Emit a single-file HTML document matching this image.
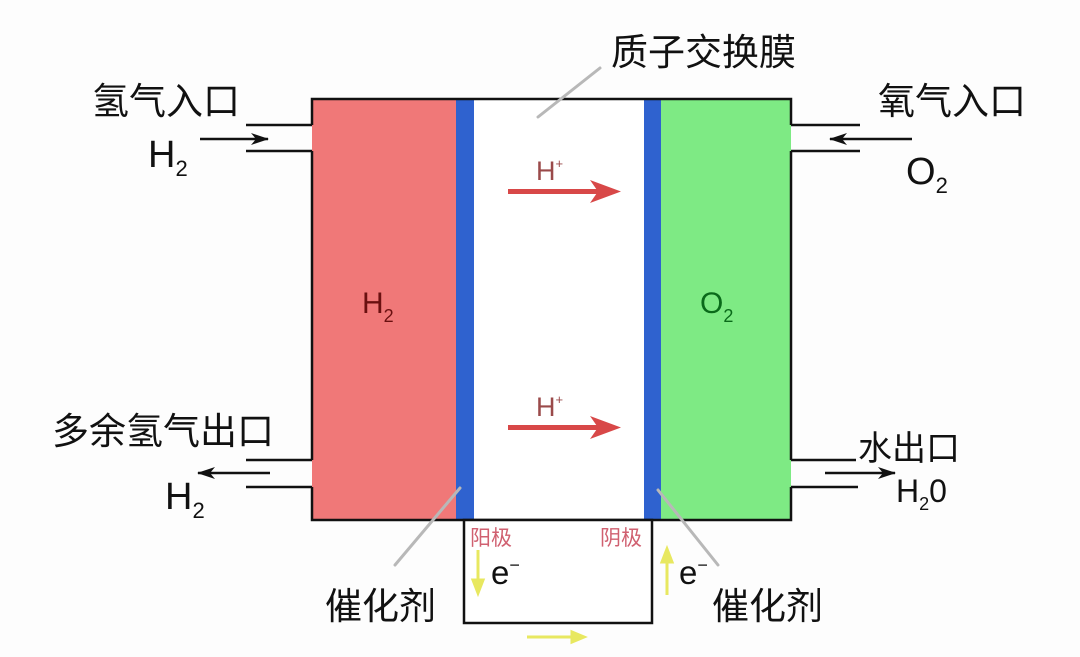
<!DOCTYPE html>
<html><head><meta charset="utf-8"><style>
html,body{margin:0;padding:0;background:#fff;}
svg{display:block;}
text{font-family:"Liberation Sans","Noto Sans CJK SC",sans-serif;}
</style></head><body>
<svg width="1080" height="657" viewBox="0 0 1080 657" xmlns="http://www.w3.org/2000/svg">
<defs>
<marker id="ak" markerWidth="18" markerHeight="12" refX="17" refY="6" orient="auto" markerUnits="userSpaceOnUse"><path d="M0,0 L18,6 L0,12 L5,6 Z" fill="#111"/></marker>
</defs>
<rect x="0" y="0" width="1080" height="657" fill="#fdfdfd"/>
<rect x="312" y="99" width="144" height="421" fill="#f07878"/>
<rect x="456" y="99" width="18" height="421" fill="#2f62cf"/>
<rect x="474" y="99" width="170" height="421" fill="#ffffff"/>
<rect x="644" y="99" width="17" height="421" fill="#2f62cf"/>
<rect x="661" y="99" width="130" height="421" fill="#7eea84"/>
<g stroke="#111" stroke-width="2.5" fill="none">
<path d="M312,125 V99 H791 V125"/>
<path d="M312,151 V460"/>
<path d="M312,487 V520 H791 V487"/>
<path d="M791,151 V460"/>
<path d="M246,125 H312"/><path d="M246,151 H312"/>
<path d="M246,460 H312"/><path d="M246,487 H312"/>
<path d="M791,125 H860"/><path d="M791,151 H860"/>
<path d="M791,460 H856"/><path d="M791,487 H858"/>
</g>
<g stroke="#111" stroke-width="2.5">
<line x1="200" y1="139" x2="268" y2="139" marker-end="url(#ak)"/>
<line x1="912" y1="139" x2="830" y2="139" marker-end="url(#ak)"/>
<line x1="270" y1="473" x2="198" y2="473" marker-end="url(#ak)"/>
<line x1="825" y1="473" x2="895" y2="473" marker-end="url(#ak)"/>
</g>
<g fill="#d84848">
<rect x="508" y="189" width="92" height="5"/><path d="M590,180 L621,191.5 L590,203 L598,191.5Z"/>
<rect x="508" y="425" width="92" height="5"/><path d="M590,416 L621,427.5 L590,439 L598,427.5Z"/>
</g>
<text x="536" y="180" font-size="27" fill="#9a4a4a">H<tspan font-size="13" dy="-12">+</tspan></text>
<text x="536" y="416" font-size="27" fill="#9a4a4a">H<tspan font-size="13" dy="-12">+</tspan></text>
<text x="362" y="313" font-size="30" fill="#6a1010">H<tspan font-size="18" dy="9">2</tspan></text>
<text x="700" y="313" font-size="30" fill="#0a6a1a">O<tspan font-size="18" dy="9">2</tspan></text>
<rect x="464" y="520" width="188" height="103" fill="#fff" stroke="#111" stroke-width="2.5"/>
<text x="470" y="545" font-size="21" fill="#d06070">阳极</text>
<text x="600" y="545" font-size="21" fill="#d06070">阴极</text>
<text x="491" y="584" font-size="33" fill="#111">e<tspan font-size="18" dy="-13">−</tspan></text>
<text x="679" y="584" font-size="33" fill="#111">e<tspan font-size="18" dy="-13">−</tspan></text>
<g stroke="#e8e860" stroke-width="3" fill="#e8e860">
<line x1="478" y1="550" x2="478" y2="582"/><path d="M473,580 L478,593 L483,580Z"/>
<line x1="667" y1="595" x2="667" y2="560"/><path d="M662,562 L667,549 L672,562Z"/>
<line x1="527" y1="637" x2="575" y2="637"/><path d="M572,632 L584,637 L572,642Z"/>
</g>
<g stroke="#b8b8b8" stroke-width="3" fill="none" stroke-linecap="round">
<line x1="538" y1="117" x2="600" y2="68"/>
<line x1="460" y1="488" x2="395" y2="565"/>
<line x1="658" y1="490" x2="718" y2="565"/>
</g>
<g font-size="37" fill="#111">
<text x="611" y="65">质子交换膜</text>
<text x="92" y="114">氢气入口</text>
<text x="878" y="114">氧气入口</text>
<text x="52" y="444">多余氢气出口</text>
<text x="858" y="460" font-size="34">水出口</text>
<text x="325" y="619">催化剂</text>
<text x="712" y="619">催化剂</text>
</g>
<text x="148" y="167" font-size="38" fill="#111">H<tspan font-size="22" dy="9">2</tspan></text>
<text x="906" y="184" font-size="38" fill="#111">O<tspan font-size="22" dy="9">2</tspan></text>
<text x="165" y="509" font-size="38" fill="#111">H<tspan font-size="22" dy="9">2</tspan></text>
<text x="896" y="502" font-size="32" fill="#111">H<tspan font-size="18" dy="8">2</tspan><tspan dy="-8">0</tspan></text>
</svg>
</body></html>
